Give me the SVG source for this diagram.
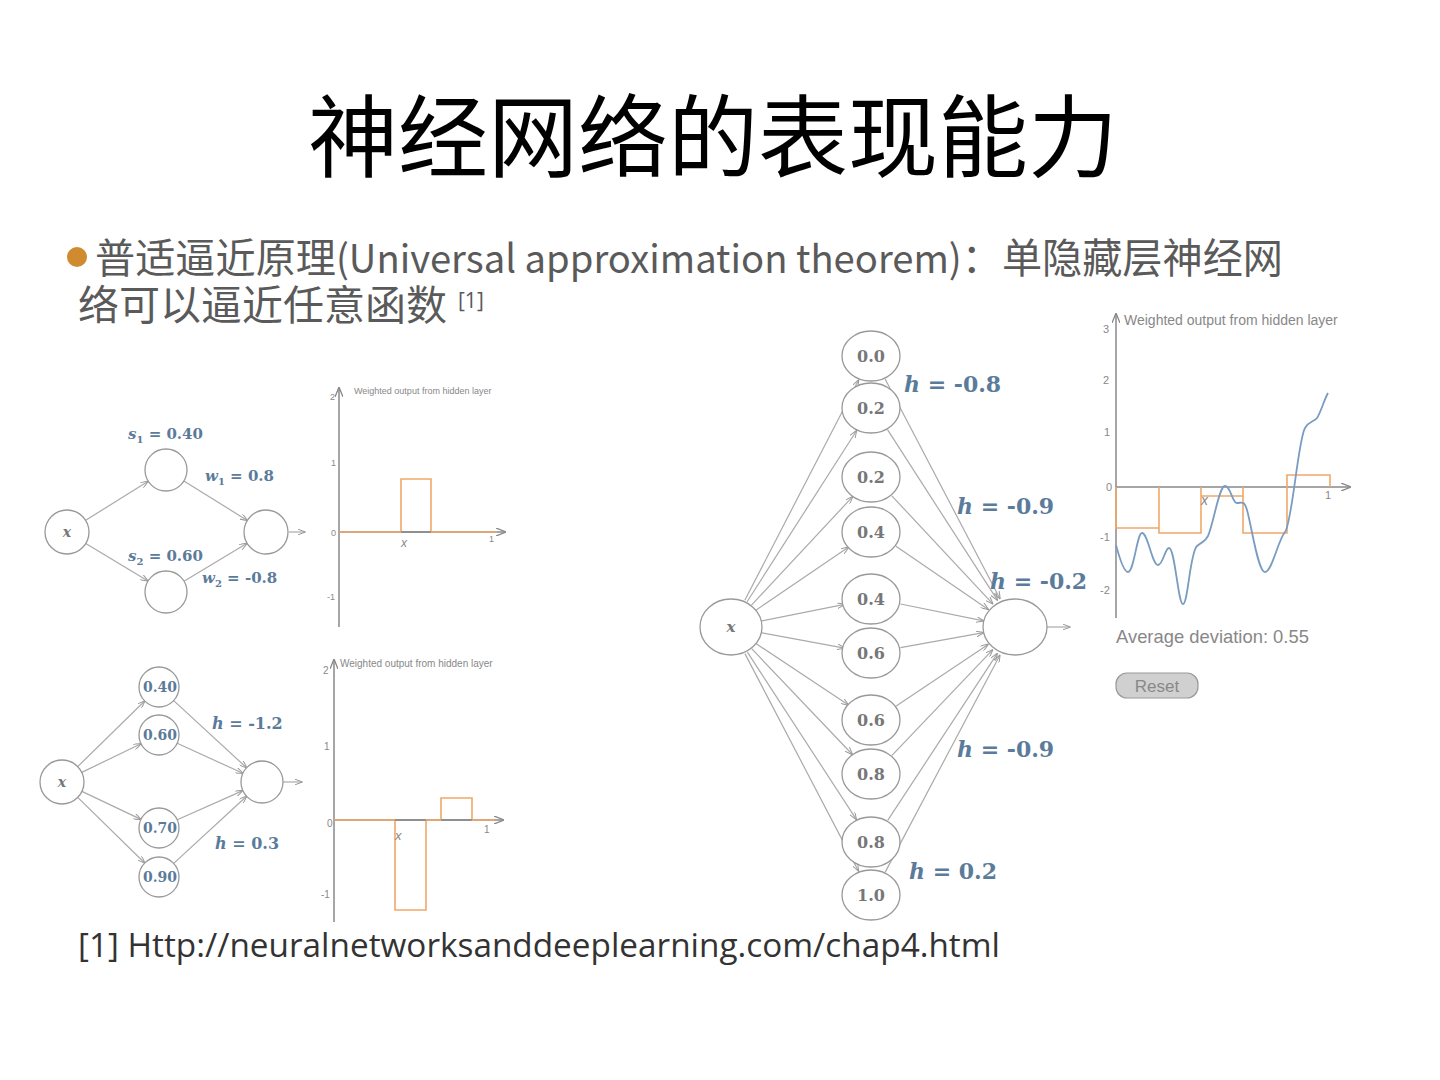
<svg xmlns="http://www.w3.org/2000/svg" width="1440" height="1080" viewBox="0 0 1440 1080">
<style>
.title{font-family:"Noto Sans CJK SC","Noto Sans",sans-serif;font-size:90px;fill:#000}
.body{font-family:"Noto Sans CJK SC","Noto Sans",sans-serif;font-size:41px;fill:#5a5a5a}
.latin{font-size:39px}
.sup{font-family:"Open Sans","Noto Sans",sans-serif;font-size:21px;fill:#5a5a5a}
.foot{font-family:"Open Sans","Liberation Sans",sans-serif;font-size:32px;fill:#333}
.node{fill:#fff;stroke:#999;stroke-width:1.3}
.edge{stroke:#aaa;stroke-width:1.2;fill:none}
.math{font-family:"DejaVu Serif","Liberation Serif",serif;font-weight:bold;fill:#5b7b9b}
.nl{font-family:"DejaVu Serif","Liberation Serif",serif;font-weight:bold;fill:#777;text-anchor:middle}
.nlb{font-family:"DejaVu Serif","Liberation Serif",serif;font-weight:bold;fill:#5b7b9b;text-anchor:middle}
.ax{stroke:#888;stroke-width:1.5;fill:none}
.tick{font-family:"Liberation Sans",sans-serif;fill:#888}
.ct{font-family:"Liberation Sans",sans-serif;fill:#888}
.or{fill:none;stroke:#f0a868;stroke-width:1.6}
</style>
<defs>
<marker id="ah" markerWidth="8" markerHeight="6" refX="7.5" refY="3" orient="auto" markerUnits="userSpaceOnUse">
<path d="M0,0 L8,3 L0,6" fill="none" stroke="#999" stroke-width="1"/>
</marker>
<marker id="axa" markerWidth="10" markerHeight="8" refX="9" refY="4" orient="auto" markerUnits="userSpaceOnUse">
<path d="M0,0 L10,4 L0,8" fill="none" stroke="#888" stroke-width="1.3"/>
</marker>
</defs>
<rect width="1440" height="1080" fill="#fff"/>

<g id="title"><text class="title" x="308" y="170">神经网络的表现能力</text></g>

<g id="bullet">
<circle cx="77" cy="257" r="10" fill="#d08a30"/>
<text class="body" x="95" y="273" textLength="1188" lengthAdjust="spacingAndGlyphs">普适逼近原理<tspan class="latin">(Universal approximation theorem)</tspan>：单隐藏层神经网</text>
<text class="body" x="78" y="320">络可以逼近任意函数</text>
<text class="sup" x="458" y="308">[1]</text>
</g>

<g id="footer"><text class="foot" x="78" y="957" textLength="922" lengthAdjust="spacingAndGlyphs">[1] Http://neuralnetworksanddeeplearning.com/chap4.html</text></g>

<!-- Top-left network -->
<g id="connectors-tl">
<line class="edge" x1="85.7" y1="520.3" x2="148.2" y2="481.2" marker-end="url(#ah)"/>
<line class="edge" x1="85.8" y1="543.4" x2="148" y2="581.1" marker-end="url(#ah)"/>
<line class="edge" x1="183.9" y1="481.1" x2="247.3" y2="520.4" marker-end="url(#ah)"/>
<line class="edge" x1="184" y1="581.2" x2="247.1" y2="543.3" marker-end="url(#ah)"/>
<line class="edge" x1="289" y1="532" x2="305" y2="532" marker-end="url(#ah)"/>
</g>
<g id="tl-x"><circle class="node" cx="67" cy="532" r="22"/><text class="nl" x="67" y="537" font-size="14" font-style="italic">x</text></g>
<g id="tl-h1"><circle class="node" cx="166" cy="470" r="21"/></g>
<g id="tl-h2"><circle class="node" cx="166" cy="592" r="21"/></g>
<g id="tl-out"><circle class="node" cx="266" cy="532" r="22"/></g>
<g id="tl-labels" font-size="15">
<text class="math" x="128" y="439"><tspan font-style="italic">s</tspan><tspan font-size="10" dy="4">1</tspan><tspan dy="-4"> = 0.40</tspan></text>
<text class="math" x="205" y="481"><tspan font-style="italic">w</tspan><tspan font-size="10" dy="4">1</tspan><tspan dy="-4"> = 0.8</tspan></text>
<text class="math" x="128" y="561"><tspan font-style="italic">s</tspan><tspan font-size="10" dy="4">2</tspan><tspan dy="-4"> = 0.60</tspan></text>
<text class="math" x="202" y="583"><tspan font-style="italic">w</tspan><tspan font-size="10" dy="4">2</tspan><tspan dy="-4"> = -0.8</tspan></text>
</g>

<!-- Top-left chart -->
<g id="chart-tl">
<line class="ax" x1="339" y1="627" x2="339" y2="388" marker-end="url(#axa)"/>
<line class="ax" x1="339" y1="532" x2="505" y2="532" marker-end="url(#axa)"/>
<polyline class="or" points="339,532 401,532 401,479 431,479 431,532 497,532"/>
<line x1="401" y1="532" x2="431" y2="532" stroke="#888" stroke-width="1.5"/>
<text class="ct" x="354" y="394" font-size="9">Weighted output from hidden layer</text>
<text class="tick" x="330" y="400" font-size="9">2</text>
<text class="tick" x="331" y="466" font-size="9">1</text>
<text class="tick" x="331" y="536" font-size="9">0</text>
<text class="tick" x="327" y="600" font-size="9">-1</text>
<text class="tick" x="489" y="542" font-size="9">1</text>
<text class="ct" x="401" y="547" font-size="12" font-style="italic" font-family="Liberation Serif">x</text>
</g>

<!-- Bottom-left network -->
<g id="connectors-bl">
<line class="edge" x1="77.7" y1="766.6" x2="144.7" y2="701" marker-end="url(#ah)"/>
<line class="edge" x1="81.8" y1="772.4" x2="141" y2="743.7" marker-end="url(#ah)"/>
<line class="edge" x1="81.9" y1="791.4" x2="140.9" y2="819.4" marker-end="url(#ah)"/>
<line class="edge" x1="77.7" y1="797.4" x2="144.7" y2="863" marker-end="url(#ah)"/>
<line class="edge" x1="173.7" y1="700.6" x2="246.6" y2="767.8" marker-end="url(#ah)"/>
<line class="edge" x1="177.2" y1="743.3" x2="242.9" y2="773.3" marker-end="url(#ah)"/>
<line class="edge" x1="177.3" y1="819.8" x2="242.8" y2="790.6" marker-end="url(#ah)"/>
<line class="edge" x1="173.7" y1="863.4" x2="246.6" y2="796.2" marker-end="url(#ah)"/>
<line class="edge" x1="283" y1="782" x2="302" y2="782" marker-end="url(#ah)"/>
</g>
<g id="bl-x"><circle class="node" cx="62" cy="782" r="22"/><text class="nl" x="62" y="787" font-size="14" font-style="italic">x</text></g>
<g id="bl-h1"><circle class="node" cx="159" cy="687" r="20"/><text class="nlb" x="160" y="692" font-size="14">0.40</text></g>
<g id="bl-h2"><circle class="node" cx="159" cy="735" r="20"/><text class="nlb" x="160" y="740" font-size="14">0.60</text></g>
<g id="bl-h3"><circle class="node" cx="159" cy="828" r="20"/><text class="nlb" x="160" y="833" font-size="14">0.70</text></g>
<g id="bl-h4"><circle class="node" cx="159" cy="877" r="20"/><text class="nlb" x="160" y="882" font-size="14">0.90</text></g>
<g id="bl-out"><circle class="node" cx="262" cy="782" r="21"/></g>
<g id="bl-labels" font-size="16">
<text class="math" x="212" y="729"><tspan font-style="italic">h</tspan> = -1.2</text>
<text class="math" x="215" y="849"><tspan font-style="italic">h</tspan> = 0.3</text>
</g>

<!-- Bottom-left chart -->
<g id="chart-bl">
<line class="ax" x1="334" y1="922" x2="334" y2="660" marker-end="url(#axa)"/>
<line class="ax" x1="334" y1="820" x2="503" y2="820" marker-end="url(#axa)"/>
<polyline class="or" points="334,820 395,820 395,910 426,910 426,820 441,820 441,798 472,798 472,820 495,820"/>
<line x1="395" y1="820" x2="426" y2="820" stroke="#888" stroke-width="1.5"/>
<line x1="441" y1="820" x2="472" y2="820" stroke="#888" stroke-width="1.5"/>
<text class="ct" x="340" y="667" font-size="10">Weighted output from hidden layer</text>
<text class="tick" x="323" y="674" font-size="10">2</text>
<text class="tick" x="324" y="750" font-size="10">1</text>
<text class="tick" x="327" y="827" font-size="10">0</text>
<text class="tick" x="321" y="898" font-size="10">-1</text>
<text class="tick" x="484" y="833" font-size="10">1</text>
<text class="ct" x="395" y="840" font-size="13" font-style="italic" font-family="Liberation Serif">x</text>
</g>

<!-- Right network -->
<g id="connectors-r">
<line class="edge" x1="744.8" y1="600.3" x2="858.6" y2="380" marker-end="url(#ah)"/>
<line class="edge" x1="747.1" y1="601.7" x2="856.5" y2="430.7" marker-end="url(#ah)"/>
<line class="edge" x1="751.5" y1="605.1" x2="852.6" y2="496.7" marker-end="url(#ah)"/>
<line class="edge" x1="755.8" y1="610.2" x2="848.7" y2="547.1" marker-end="url(#ah)"/>
<line class="edge" x1="760.4" y1="621.1" x2="844.5" y2="604.3" marker-end="url(#ah)"/>
<line class="edge" x1="760.5" y1="632.5" x2="844.5" y2="648.1" marker-end="url(#ah)"/>
<line class="edge" x1="756" y1="643.6" x2="848.5" y2="705.1" marker-end="url(#ah)"/>
<line class="edge" x1="751.7" y1="648.7" x2="852.4" y2="754.5" marker-end="url(#ah)"/>
<line class="edge" x1="747.4" y1="652.1" x2="856.3" y2="819.4" marker-end="url(#ah)"/>
<line class="edge" x1="744.9" y1="653.6" x2="858.5" y2="871.1" marker-end="url(#ah)"/>
<line class="edge" x1="885.1" y1="379" x2="1000" y2="598.7" marker-end="url(#ah)"/>
<line class="edge" x1="887.5" y1="429.7" x2="997.4" y2="600.2" marker-end="url(#ah)"/>
<line class="edge" x1="891.8" y1="495.8" x2="992.8" y2="603.9" marker-end="url(#ah)"/>
<line class="edge" x1="896" y1="546.3" x2="988.3" y2="609.4" marker-end="url(#ah)"/>
<line class="edge" x1="900.5" y1="604" x2="983.6" y2="620.9" marker-end="url(#ah)"/>
<line class="edge" x1="900.5" y1="647.7" x2="983.5" y2="632.7" marker-end="url(#ah)"/>
<line class="edge" x1="896.2" y1="705.9" x2="988.1" y2="644.4" marker-end="url(#ah)"/>
<line class="edge" x1="892" y1="755.4" x2="992.6" y2="649.8" marker-end="url(#ah)"/>
<line class="edge" x1="887.7" y1="820.4" x2="997.2" y2="653.6" marker-end="url(#ah)"/>
<line class="edge" x1="885.2" y1="872.1" x2="999.9" y2="655.2" marker-end="url(#ah)"/>
<line class="edge" x1="1047" y1="627" x2="1070" y2="627" marker-end="url(#ah)"/>
</g>
<g id="r-x"><ellipse class="node" cx="731" cy="627" rx="31" ry="28"/><text class="nl" x="731" y="632" font-size="15" font-style="italic">x</text></g>
<g id="r-h1"><ellipse class="node" cx="871" cy="356" rx="29" ry="25"/><text class="nl" x="871" y="362" font-size="16">0.0</text></g>
<g id="r-h2"><ellipse class="node" cx="871" cy="408" rx="29" ry="25"/><text class="nl" x="871" y="414" font-size="16">0.2</text></g>
<g id="r-h3"><ellipse class="node" cx="871" cy="477" rx="29" ry="25"/><text class="nl" x="871" y="483" font-size="16">0.2</text></g>
<g id="r-h4"><ellipse class="node" cx="871" cy="532" rx="29" ry="25"/><text class="nl" x="871" y="538" font-size="16">0.4</text></g>
<g id="r-h5"><ellipse class="node" cx="871" cy="599" rx="29" ry="25"/><text class="nl" x="871" y="605" font-size="16">0.4</text></g>
<g id="r-h6"><ellipse class="node" cx="871" cy="653" rx="29" ry="25"/><text class="nl" x="871" y="659" font-size="16">0.6</text></g>
<g id="r-h7"><ellipse class="node" cx="871" cy="720" rx="29" ry="25"/><text class="nl" x="871" y="726" font-size="16">0.6</text></g>
<g id="r-h8"><ellipse class="node" cx="871" cy="774" rx="29" ry="25"/><text class="nl" x="871" y="780" font-size="16">0.8</text></g>
<g id="r-h9"><ellipse class="node" cx="871" cy="842" rx="29" ry="25"/><text class="nl" x="871" y="848" font-size="16">0.8</text></g>
<g id="r-h10"><ellipse class="node" cx="871" cy="895" rx="29" ry="25"/><text class="nl" x="871" y="901" font-size="16">1.0</text></g>
<g id="r-out"><ellipse class="node" cx="1015" cy="627" rx="32" ry="28"/></g>
<g id="r-labels" font-size="22">
<text class="math" x="904" y="392"><tspan font-style="italic">h</tspan> = -0.8</text>
<text class="math" x="957" y="514"><tspan font-style="italic">h</tspan> = -0.9</text>
<text class="math" x="990" y="589"><tspan font-style="italic">h</tspan> = -0.2</text>
<text class="math" x="957" y="757"><tspan font-style="italic">h</tspan> = -0.9</text>
<text class="math" x="909" y="879"><tspan font-style="italic">h</tspan> = 0.2</text>
</g>

<!-- Right chart -->
<g id="chart-r">
<line class="ax" x1="1116" y1="618" x2="1116" y2="314" marker-end="url(#axa)"/>
<line class="ax" x1="1116" y1="487" x2="1350" y2="487" marker-end="url(#axa)"/>
<path class="or" d="M1116,487 V528 H1159 V487 M1159,528 V533 H1201 V487 M1201,496 H1243 V487 M1243,487 V533 H1287 V475 H1330 V487"/>
<path fill="none" stroke="#7a9cc0" stroke-width="1.8" stroke-linejoin="round" d="M1116,545 C1120,560 1124,572 1128,572 C1134,572 1137,533 1142,533 C1148,533 1152,565 1158,565 C1163,565 1165,548 1169,548 C1175,548 1178,604 1183,604 C1188,604 1190,552 1197,546 C1203,541 1205,542 1208,536 C1214,522 1219,486 1225,486 C1231,486 1232,503 1237,503 C1242,503 1244,500 1247,510 C1252,528 1258,572 1265,572 C1272,572 1278,540 1285,532 C1292,524 1298,440 1305,428 C1309,421 1314,422 1317,418 C1321,412 1324,400 1328,393"/>
<text class="ct" x="1124" y="325" font-size="14">Weighted output from hidden layer</text>
<text class="tick" x="1103" y="333" font-size="11">3</text>
<text class="tick" x="1103" y="384" font-size="11">2</text>
<text class="tick" x="1104" y="436" font-size="11">1</text>
<text class="tick" x="1106" y="491" font-size="11">0</text>
<text class="tick" x="1100" y="541" font-size="11">-1</text>
<text class="tick" x="1100" y="594" font-size="11">-2</text>
<text class="tick" x="1325" y="499" font-size="11">1</text>
<text class="ct" x="1201" y="505" font-size="14" font-style="italic" font-family="Liberation Serif">x</text>
<text class="ct" x="1116" y="643" font-size="18.4" fill="#666">Average deviation: 0.55</text>
<rect x="1116" y="673" width="82" height="25" rx="11" fill="#d0d0d0" stroke="#999" stroke-width="1.2"/>
<text class="ct" x="1157" y="692" font-size="17" text-anchor="middle" fill="#777">Reset</text>
</g>
</svg>
